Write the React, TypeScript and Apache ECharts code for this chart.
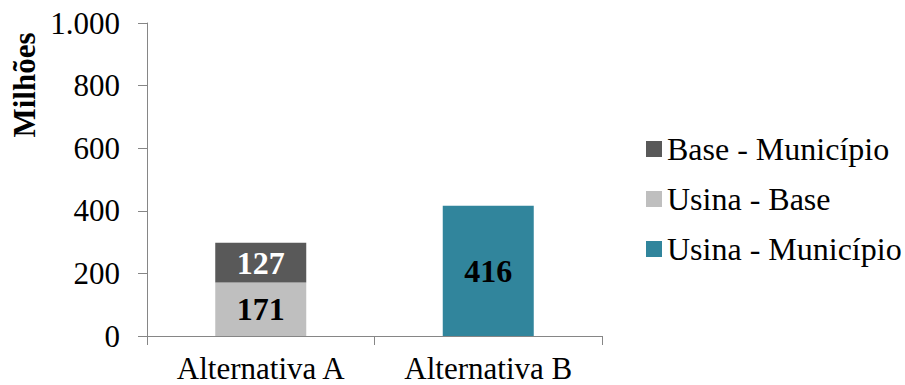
import React, { useEffect, useRef } from "react";
import * as echarts from "echarts";

const categories = ["Alternativa A", "Alternativa B"];
const usinaBase = [171, null];
const baseMunicipio = [127, null];
const usinaMunicipio = [null, 416];
const legendOrder = ["Base - Município", "Usina - Base", "Usina - Município"];
const yMin = 0;
const yMax = 1000;
const yStep = 200;

const FONT = "Liberation Serif";
const SIZE = 31;

const formatThousands = (v: number) =>
  String(v).replace(/\B(?=(\d{3})+(?!\d))/g, ".");

export default function App() {
  const ref = useRef<HTMLDivElement>(null);

  useEffect(() => {
    if (!ref.current) return;
    const chart = echarts.init(ref.current, undefined, { renderer: "svg" });
    const valueLabel = (color: string) => ({
      show: true,
      position: "inside" as const,
      color,
      fontFamily: FONT,
      fontSize: 32,
      fontWeight: "bold" as const,
    });
    chart.setOption({
      animation: false,
      textStyle: { fontFamily: FONT, color: "#000" },
      grid: { left: 147, right: 303, top: 23, bottom: 49 },
      graphic: [
        {
          type: "text",
          x: 24,
          y: 85,
          rotation: Math.PI / 2,
          style: {
            text: "Milhões",
            font: `bold ${SIZE}px ${FONT}`,
            fill: "#000",
            align: "center",
            verticalAlign: "middle",
          },
        },
      ],
      legend: {
        orient: "vertical",
        left: 646,
        top: 133,
        padding: 0,
        itemWidth: 16,
        itemHeight: 16,
        itemGap: 18,
        icon: "rect",
        data: legendOrder,
        textStyle: {
          fontFamily: FONT,
          fontSize: 32,
          color: "#000",
          lineHeight: 32,
        },
      },
      xAxis: {
        type: "category",
        data: categories,
        axisLine: { lineStyle: { color: "#868686", width: 1 } },
        axisTick: { show: true, length: 9, lineStyle: { color: "#868686" } },
        axisLabel: {
          color: "#000",
          fontFamily: FONT,
          fontSize: SIZE,
          margin: 17,
        },
      },
      yAxis: {
        type: "value",
        min: yMin,
        max: yMax,
        interval: yStep,
        splitLine: { show: false },
        axisLine: { show: true, lineStyle: { color: "#868686", width: 1 } },
        axisTick: { show: true, length: 9, lineStyle: { color: "#868686" } },
        axisLabel: {
          color: "#000",
          fontFamily: FONT,
          fontSize: SIZE,
          margin: 27,
          formatter: (v: number) => formatThousands(v),
        },
      },
      series: [
        {
          name: "Usina - Base",
          type: "bar",
          stack: "total",
          barWidth: "40%",
          data: usinaBase,
          itemStyle: { color: "#bfbfbf" },
          label: valueLabel("#000"),
        },
        {
          name: "Base - Município",
          type: "bar",
          stack: "total",
          barWidth: "40%",
          data: baseMunicipio,
          itemStyle: { color: "#595959" },
          label: valueLabel("#fff"),
        },
        {
          name: "Usina - Município",
          type: "bar",
          stack: "total",
          barWidth: "40%",
          data: usinaMunicipio,
          itemStyle: { color: "#31859c" },
          label: valueLabel("#000"),
        },
      ],
    });
    return () => chart.dispose();
  }, []);

  return (
    <div
      ref={ref}
      style={{ position: "absolute", left: 0, top: 0, width: 905, height: 385 }}
    />
  );
}
